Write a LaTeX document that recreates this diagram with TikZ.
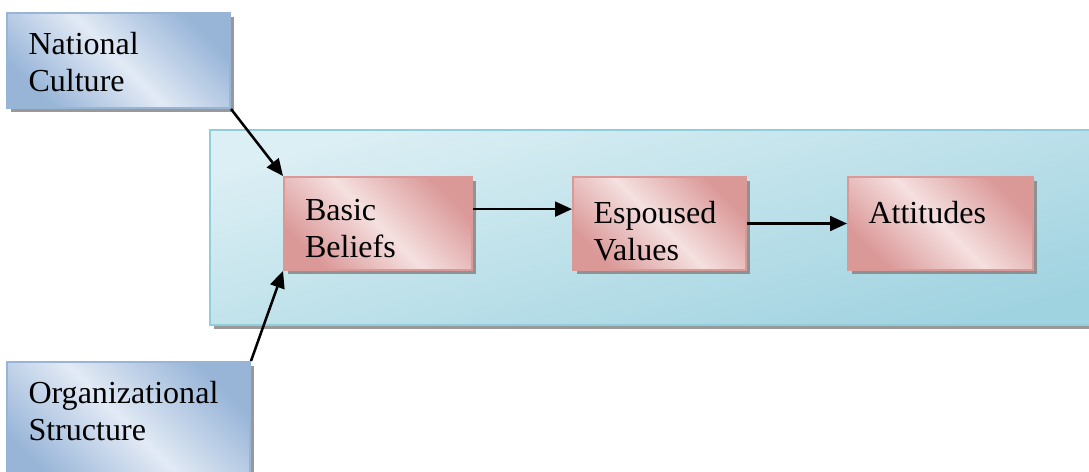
\documentclass[tikz,border=0pt]{standalone}
\usepackage{fontspec}
\setmainfont{Liberation Serif}
\usepackage{tikz}
\usetikzlibrary{arrows.meta,positioning,shadows}
\definecolor{driverBlue}{RGB}{152,181,216}
\definecolor{driverLight}{RGB}{226,234,245}
\definecolor{layerRose}{RGB}{218,152,151}
\definecolor{layerLight}{RGB}{245,224,224}
\definecolor{bandTop}{RGB}{220,239,244}
\definecolor{bandLow}{RGB}{160,211,224}
\definecolor{bandEdge}{RGB}{146,205,220}
\newcommand{\boxtxt}[3]{\parbox[c][#2][t]{#1}{\raggedright #3}}

\begin{document}
\begin{tikzpicture}[
  font=\fontsize{22.8}{26.3}\selectfont,
  shad/.style={drop shadow={shadow xshift=0.1cm,shadow yshift=-0.1cm,fill=black!50,opacity=0.8}},
  driver/.style={rectangle,draw=driverBlue,line width=1.4pt,inner sep=0pt,shad,
                 top color=driverBlue,bottom color=driverBlue,middle color=driverLight,
                 shading angle=-45},
  layer/.style={rectangle,draw=layerRose,line width=1.4pt,inner sep=0pt,shad,
                top color=layerRose,bottom color=layerRose,middle color=layerLight,
                shading angle=-45},
  band/.style={rectangle,draw=bandEdge,line width=1.2pt,inner sep=0pt,shad,
               top color=bandTop,bottom color=bandLow,shading angle=15},
  flow/.style={-{Triangle[length=12pt,width=10.5pt]},line width=1.8pt}
]
  \useasboundingbox (0,0) rectangle (27.225,-11.775);

  \node[band,minimum width=22.35cm,minimum height=4.875cm](core) at (16.425,-5.6875){};

  \node[driver,minimum width=5.575cm,minimum height=2.375cm](natl) at (2.9625,-1.5125)
      {\boxtxt{4.5cm}{1.4cm}{National\\Culture}};
  \node[driver,minimum width=6.075cm,minimum height=3.2cm](org) at (3.2125,-10.65)
      {\boxtxt{5.0cm}{2.25cm}{Organizational\\Structure}};

  \node[layer,minimum width=4.7cm,minimum height=2.325cm](basic) at (9.45,-5.5875)
      {\boxtxt{3.65cm}{1.2cm}{Basic\\Beliefs}};
  \node[layer,minimum width=4.325cm,minimum height=2.325cm](esp) at (16.4875,-5.5875)
      {\boxtxt{3.3cm}{1.1cm}{Espoused\\Values}};
  \node[layer,minimum width=4.625cm,minimum height=2.325cm](att) at (23.5125,-5.5875)
      {\boxtxt{3.6cm}{1.1cm}{Attitudes}};

  \draw[flow](natl.south east)--(basic.north west);
  \draw[flow](org.north east)--(basic.south west);
  \draw[flow]([yshift=0.36cm]basic.east)--([yshift=0.36cm]esp.west);
  \draw[flow](esp.east)--(att.west);
\end{tikzpicture}
\end{document}
